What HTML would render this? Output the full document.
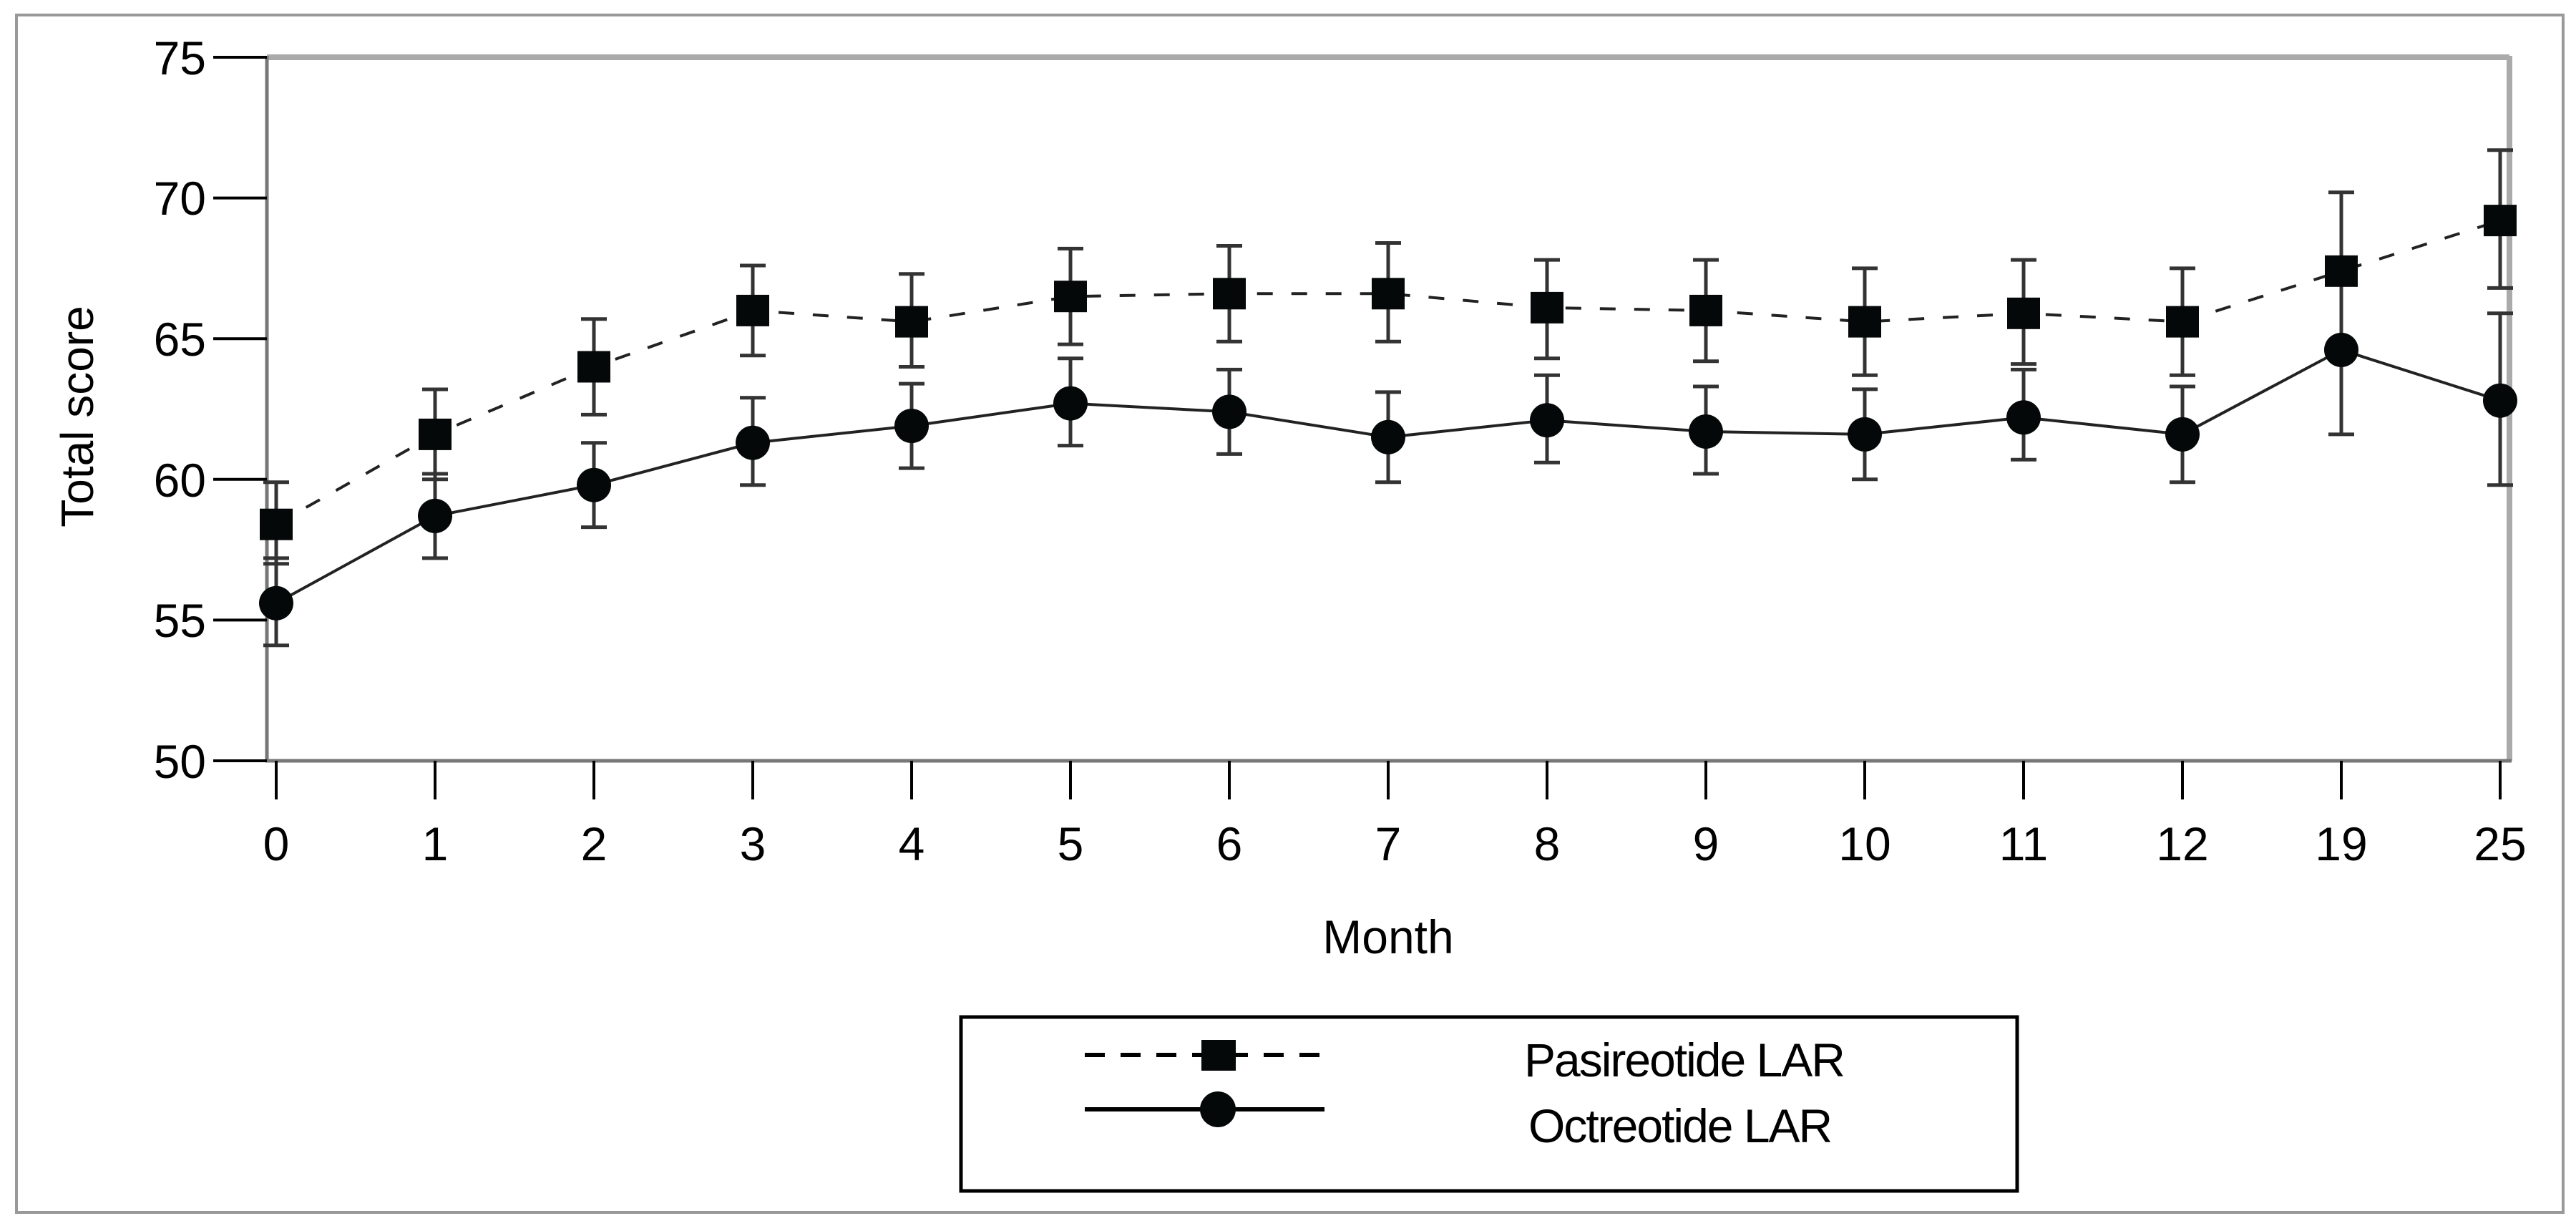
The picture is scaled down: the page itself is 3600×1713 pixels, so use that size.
<!DOCTYPE html>
<html><head><meta charset="utf-8"><style>
html,body{margin:0;padding:0;background:#fff;}
svg{display:block;}
text{font-family:"Liberation Sans",Arial,sans-serif;fill:#000;}
</style></head><body>
<svg width="3600" height="1713" viewBox="0 0 3600 1713" xmlns="http://www.w3.org/2000/svg">
<rect x="23" y="21" width="3559" height="1673" fill="#fff" stroke="#999" stroke-width="4"/>
<!-- plot frame -->
<line x1="373" y1="80" x2="3507" y2="80" stroke="#aaa" stroke-width="8"/>
<line x1="3507" y1="78" x2="3507" y2="1063" stroke="#aaa" stroke-width="8"/>
<line x1="373" y1="78" x2="373" y2="1065" stroke="#777" stroke-width="5"/>
<line x1="371" y1="1063" x2="3510" y2="1063" stroke="#777" stroke-width="5"/>
<!-- y ticks -->
<g stroke="#000" stroke-width="4">
<line x1="298" y1="80" x2="373" y2="80"/><line x1="298" y1="276.6" x2="373" y2="276.6"/>
<line x1="298" y1="473.2" x2="373" y2="473.2"/><line x1="298" y1="669.8" x2="373" y2="669.8"/>
<line x1="298" y1="866.4" x2="373" y2="866.4"/><line x1="298" y1="1063" x2="373" y2="1063"/>
</g>
<g font-size="66" text-anchor="end">
<text x="288" y="104">75</text><text x="288" y="300">70</text><text x="288" y="497">65</text>
<text x="288" y="694">60</text><text x="288" y="890">55</text><text x="288" y="1087">50</text>
</g>
<text transform="translate(130,582) rotate(-90)" font-size="64" text-anchor="middle">Total score</text>
<!-- x ticks -->
<g stroke="#000" stroke-width="4">
<line x1="386" y1="1063" x2="386" y2="1117"/><line x1="608" y1="1063" x2="608" y2="1117"/>
<line x1="830" y1="1063" x2="830" y2="1117"/><line x1="1052" y1="1063" x2="1052" y2="1117"/>
<line x1="1274" y1="1063" x2="1274" y2="1117"/><line x1="1496" y1="1063" x2="1496" y2="1117"/>
<line x1="1718" y1="1063" x2="1718" y2="1117"/><line x1="1940" y1="1063" x2="1940" y2="1117"/>
<line x1="2162" y1="1063" x2="2162" y2="1117"/><line x1="2384" y1="1063" x2="2384" y2="1117"/>
<line x1="2606" y1="1063" x2="2606" y2="1117"/><line x1="2828" y1="1063" x2="2828" y2="1117"/>
<line x1="3050" y1="1063" x2="3050" y2="1117"/><line x1="3272" y1="1063" x2="3272" y2="1117"/>
<line x1="3494" y1="1063" x2="3494" y2="1117"/>
</g>
<g font-size="66" text-anchor="middle">
<text x="386" y="1202">0</text><text x="608" y="1202">1</text><text x="830" y="1202">2</text>
<text x="1052" y="1202">3</text><text x="1274" y="1202">4</text><text x="1496" y="1202">5</text>
<text x="1718" y="1202">6</text><text x="1940" y="1202">7</text><text x="2162" y="1202">8</text>
<text x="2384" y="1202">9</text><text x="2606" y="1202">10</text><text x="2828" y="1202">11</text>
<text x="3050" y="1202">12</text><text x="3272" y="1202">19</text><text x="3494" y="1202">25</text>
</g>
<text x="1940" y="1332" font-size="66" text-anchor="middle">Month</text>
<!-- error bars -->
<g stroke="#333" stroke-width="5" fill="none">
<path d="M386 673.7V787.8M368 673.7H404M368 787.8H404"/>
<path d="M608 544V669.8M590 544H626M590 669.8H626"/>
<path d="M830 445.7V579.4M812 445.7H848M812 579.4H848"/>
<path d="M1052 371V496.8M1034 371H1070M1034 496.8H1070"/>
<path d="M1274 382.8V512.5M1256 382.8H1292M1256 512.5H1292"/>
<path d="M1496 347.4V481.1M1478 347.4H1514M1478 481.1H1514"/>
<path d="M1718 343.5V477.2M1700 343.5H1736M1700 477.2H1736"/>
<path d="M1940 339.5V477.2M1922 339.5H1958M1922 477.2H1958"/>
<path d="M2162 363.1V500.7M2144 363.1H2180M2144 500.7H2180"/>
<path d="M2384 363.1V504.7M2366 363.1H2402M2366 504.7H2402"/>
<path d="M2606 374.9V524.3M2588 374.9H2624M2588 524.3H2624"/>
<path d="M2828 363.1V508.6M2810 363.1H2846M2810 508.6H2846"/>
<path d="M3050 374.9V524.3M3032 374.9H3068M3032 524.3H3068"/>
<path d="M3272 268.7V489M3254 268.7H3290M3254 489H3290"/>
<path d="M3494 209.8V402.4M3476 209.8H3512M3476 402.4H3512"/>
<path d="M386 779.9V901.8M368 779.9H404M368 901.8H404"/>
<path d="M608 662V779.9M590 662H626M590 779.9H626"/>
<path d="M830 618.7V736.6M812 618.7H848M812 736.6H848"/>
<path d="M1052 555.8V677.7M1034 555.8H1070M1034 677.7H1070"/>
<path d="M1274 536.1V654.1M1256 536.1H1292M1256 654.1H1292"/>
<path d="M1496 500.7V622.6M1478 500.7H1514M1478 622.6H1514"/>
<path d="M1718 516.4V634.4M1700 516.4H1736M1700 634.4H1736"/>
<path d="M1940 547.9V673.7M1922 547.9H1958M1922 673.7H1958"/>
<path d="M2162 524.3V646.2M2144 524.3H2180M2144 646.2H2180"/>
<path d="M2384 540V662M2366 540H2402M2366 662H2402"/>
<path d="M2606 543.9V669.8M2588 543.9H2624M2588 669.8H2624"/>
<path d="M2828 516.4V642.3M2810 516.4H2846M2810 642.3H2846"/>
<path d="M3050 540V673.7M3032 540H3068M3032 673.7H3068"/>
<path d="M3272 374.9V606.9M3254 374.9H3290M3254 606.9H3290"/>
<path d="M3494 437.8V677.7M3476 437.8H3512M3476 677.7H3512"/>
</g>
<!-- lines -->
<polyline fill="none" stroke="#222" stroke-width="4" stroke-dasharray="22,26" points="386,732.7 608,606.9 830,512.5 1052,433.9 1274,449.6 1496,414.2 1718,410.3 1940,410.3 2162,429.9 2384,433.9 2606,449.6 2828,437.8 3050,449.6 3272,378.8 3494,308.1"/>
<polyline fill="none" stroke="#222" stroke-width="4" points="386,842.8 608,720.9 830,677.7 1052,618.7 1274,595.1 1496,563.6 1718,575.4 1940,610.8 2162,587.2 2384,603 2606,606.9 2828,583.3 3050,606.9 3272,488.9 3494,559.7"/>
<!-- markers -->
<g fill="#050808">
<rect x="363" y="710.7" width="46" height="44"/><rect x="585" y="584.9" width="46" height="44"/>
<rect x="807" y="490.5" width="46" height="44"/><rect x="1029" y="411.9" width="46" height="44"/>
<rect x="1251" y="427.6" width="46" height="44"/><rect x="1473" y="392.2" width="46" height="44"/>
<rect x="1695" y="388.3" width="46" height="44"/><rect x="1917" y="388.3" width="46" height="44"/>
<rect x="2139" y="407.9" width="46" height="44"/><rect x="2361" y="411.9" width="46" height="44"/>
<rect x="2583" y="427.6" width="46" height="44"/><rect x="2805" y="415.8" width="46" height="44"/>
<rect x="3027" y="427.6" width="46" height="44"/><rect x="3249" y="356.8" width="46" height="44"/>
<rect x="3471" y="286.1" width="46" height="44"/>
<circle cx="386" cy="842.8" r="24"/><circle cx="608" cy="720.9" r="24"/>
<circle cx="830" cy="677.7" r="24"/><circle cx="1052" cy="618.7" r="24"/>
<circle cx="1274" cy="595.1" r="24"/><circle cx="1496" cy="563.6" r="24"/>
<circle cx="1718" cy="575.4" r="24"/><circle cx="1940" cy="610.8" r="24"/>
<circle cx="2162" cy="587.2" r="24"/><circle cx="2384" cy="603" r="24"/>
<circle cx="2606" cy="606.9" r="24"/><circle cx="2828" cy="583.3" r="24"/>
<circle cx="3050" cy="606.9" r="24"/><circle cx="3272" cy="488.9" r="24"/>
<circle cx="3494" cy="559.7" r="24"/>
</g>
<!-- legend -->
<rect x="1343" y="1421" width="1476" height="243" fill="#fff" stroke="#000" stroke-width="5"/>
<line x1="1516" y1="1474" x2="1851" y2="1474" stroke="#000" stroke-width="6" stroke-dasharray="28,22"/>
<rect x="1679" y="1453" width="48" height="43" fill="#050808"/>
<line x1="1516" y1="1550" x2="1851" y2="1550" stroke="#000" stroke-width="6"/>
<circle cx="1702" cy="1550" r="25" fill="#050808"/>
<text x="2130" y="1504" font-size="66" letter-spacing="-2">Pasireotide LAR</text>
<text x="2136" y="1596" font-size="66" letter-spacing="-2">Octreotide LAR</text>
</svg>
</body></html>
